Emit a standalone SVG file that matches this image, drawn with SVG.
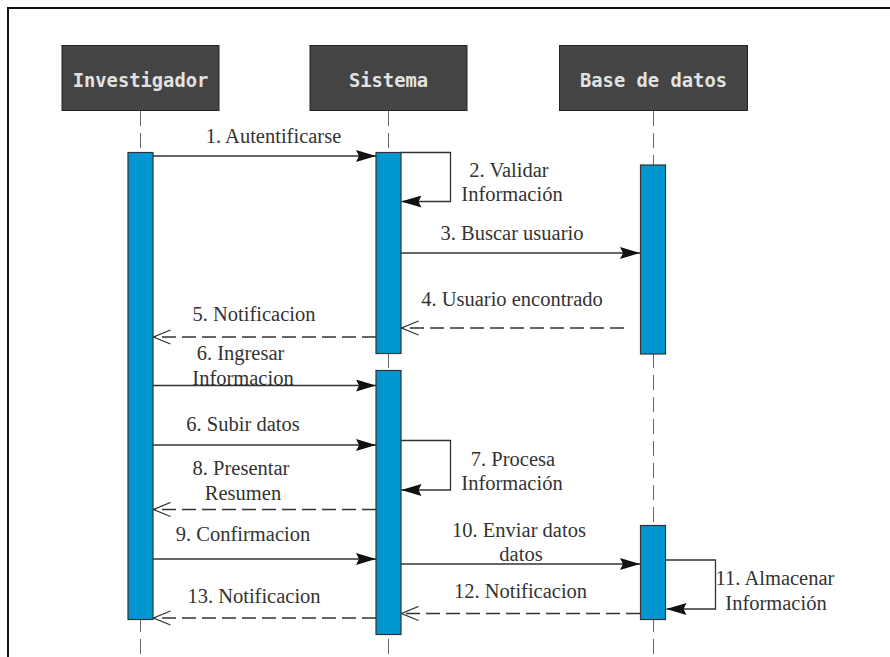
<svg xmlns="http://www.w3.org/2000/svg" width="890" height="657" viewBox="0 0 890 657">
  <style>
    .head rect { fill: #444444; stroke: #222222; stroke-width: 1; }
    .head text { font-family: "DejaVu Sans Mono", "Liberation Mono", monospace; font-size: 18.8px; font-weight: bold; fill: #e2e2e2; text-anchor: middle; }
    .life { stroke: #666666; stroke-width: 1; stroke-dasharray: 15 7; fill: none; }
    .act { fill: #0096d2; stroke: #333333; stroke-width: 1.2; }
    .msg { stroke: #333333; stroke-width: 1.3; fill: none; }
    .ret { stroke: #333333; stroke-width: 1.3; fill: none; stroke-dasharray: 14 6; }
    #labels text { font-family: "Liberation Serif", "Times New Roman", serif; font-size: 20.5px; fill: #333333; text-anchor: middle; }
  </style>
  <defs>
    <marker id="filled" viewBox="0 0 20 12" refX="20" refY="6" markerWidth="20" markerHeight="12" markerUnits="userSpaceOnUse" orient="auto">
      <path d="M0,0 L20,6 L0,12 L3,6 Z" fill="#111111"/>
    </marker>
    <marker id="open" viewBox="0 0 18 16" refX="17" refY="8" markerWidth="18" markerHeight="16" markerUnits="userSpaceOnUse" orient="auto">
      <path d="M0,1 L17,8 L0,15" fill="none" stroke="#333333" stroke-width="1.3"/>
    </marker>
  </defs>

  <!-- frame (top and left edges) -->
  <path d="M8,657 L8,8 L890,8" fill="none" stroke="#111111" stroke-width="2"/>

  <!-- lifelines -->
  <g id="lifelines">
    <line class="life" x1="140.5" y1="111" x2="140.5" y2="657"/>
    <line class="life" x1="388.5" y1="111" x2="388.5" y2="657"/>
    <line class="life" x1="653.5" y1="111" x2="653.5" y2="657"/>
  </g>

  <!-- participants -->
  <g id="investigador" class="head">
    <rect x="62" y="45.5" width="157" height="65"/>
    <text x="140.5" y="87">Investigador</text>
  </g>
  <g id="sistema" class="head">
    <rect x="310" y="45.5" width="157" height="65"/>
    <text x="388.5" y="87">Sistema</text>
  </g>
  <g id="base-de-datos" class="head">
    <rect x="559.5" y="45.5" width="188" height="65"/>
    <text x="653.5" y="87">Base de datos</text>
  </g>

  <!-- activation bars -->
  <g id="activations">
    <rect class="act" x="128" y="152.5" width="25" height="467"/>
    <rect class="act" x="376" y="152.5" width="25" height="201"/>
    <rect class="act" x="376" y="370.5" width="25" height="264"/>
    <rect class="act" x="640.5" y="165" width="25" height="189"/>
    <rect class="act" x="640.5" y="525.5" width="25" height="94"/>
  </g>

  <!-- messages -->
  <g id="connectors">
    <line class="msg" x1="153" y1="156" x2="376" y2="156" marker-end="url(#filled)"/>
    <path class="msg" d="M401,152.5 H450.5 V201.5 H401.5" marker-end="url(#filled)"/>
    <line class="msg" x1="401" y1="253" x2="640" y2="253" marker-end="url(#filled)"/>
    <line class="ret" x1="624" y1="328" x2="401.5" y2="328" marker-end="url(#open)"/>
    <line class="ret" x1="376" y1="337" x2="153.5" y2="337" marker-end="url(#open)"/>
    <line class="msg" x1="153" y1="385.5" x2="376" y2="385.5" marker-end="url(#filled)"/>
    <line class="msg" x1="153" y1="445" x2="376" y2="445" marker-end="url(#filled)"/>
    <path class="msg" d="M401,440.5 H450.5 V490 H401.5" marker-end="url(#filled)"/>
    <line class="ret" x1="376" y1="509.5" x2="153.5" y2="509.5" marker-end="url(#open)"/>
    <line class="msg" x1="153" y1="559" x2="376" y2="559" marker-end="url(#filled)"/>
    <line class="msg" x1="401" y1="564" x2="640" y2="564" marker-end="url(#filled)"/>
    <path class="msg" d="M666,560 H715.5 V609 H666.5" marker-end="url(#filled)"/>
    <line class="ret" x1="640" y1="613.5" x2="401.5" y2="613.5" marker-end="url(#open)"/>
    <line class="ret" x1="376" y1="618" x2="153.5" y2="618" marker-end="url(#open)"/>
  </g>

  <!-- message labels -->
  <g id="labels">
    <text x="273.5" y="143">1. Autentificarse</text>
    <text x="509" y="177">2. Validar</text>
    <text x="512" y="201">Información</text>
    <text x="512" y="240">3. Buscar usuario</text>
    <text x="512" y="306">4. Usuario encontrado</text>
    <text x="254" y="321">5. Notificacion</text>
    <text x="240.5" y="360">6. Ingresar</text>
    <text x="243" y="385">Informacion</text>
    <text x="243" y="431">6. Subir datos</text>
    <text x="513" y="466">7. Procesa</text>
    <text x="512" y="490">Información</text>
    <text x="241" y="475">8. Presentar</text>
    <text x="243" y="500">Resumen</text>
    <text x="243" y="541">9. Confirmacion</text>
    <text x="519" y="537">10. Enviar datos</text>
    <text x="521" y="561">datos</text>
    <text x="775" y="585">11. Almacenar</text>
    <text x="776" y="610">Información</text>
    <text x="520.5" y="598">12. Notificacion</text>
    <text x="254" y="603">13. Notificacion</text>
  </g>
</svg>
